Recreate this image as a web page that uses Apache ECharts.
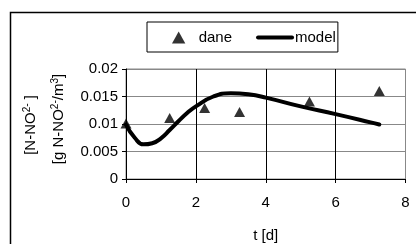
<!DOCTYPE html>
<html>
<head>
<meta charset="utf-8">
<script src="https://cdn.jsdelivr.net/npm/echarts@6/dist/echarts.min.js"></script>
<style>
  html, body { margin: 0; padding: 0; background: #fff; }
  #chart { width: 416px; height: 244px; }
</style>
</head>
<body>
<div id="chart"></div>
<script>
// pomiary (dane)
const daneT = [0, 1.25, 2.25, 3.25, 5.25, 7.25];
const daneC = [0.0101, 0.0111, 0.0129, 0.0122, 0.0141, 0.016];
// krzywa modelu
const modelT = [0, 0.25, 0.5, 0.75, 1, 1.25, 1.5, 1.75, 2, 2.5, 3, 3.5, 4, 5, 6, 7, 7.25];
const modelC = [0.0099, 0.0075, 0.0063, 0.0065, 0.0074, 0.0089, 0.0105, 0.012, 0.0132, 0.015, 0.0156, 0.0154, 0.0148, 0.0132, 0.0118, 0.0103, 0.0099];
const xTicks = [0, 2, 4, 6, 8];
const yTicks = [0, 0.005, 0.01, 0.015, 0.02];

const font = 'Liberation Sans, Arial, sans-serif';
const chart = echarts.init(document.getElementById('chart'));

const supStyle = { fontSize: 10, fontFamily: font, color: '#000', verticalAlign: 'top', lineHeight: 17, padding: [0, 0, 7, 0] };
const txtStyle = { fontSize: 15, fontFamily: font, color: '#000', lineHeight: 17 };

chart.setOption({
  animation: false,
  grid: { left: 126, right: 10.5, top: 69, bottom: 64, show: true, borderColor: '#888', borderWidth: 1 },
  legend: {
    left: 147, top: 22,
    padding: [8, 2, 7, 25],
    itemGap: 24,
    itemWidth: 38, itemHeight: 12,
    symbolKeepAspect: true,
    borderColor: '#000', borderWidth: 1,
    textStyle: { fontSize: 15, fontFamily: font, color: '#000', padding: [0, 0, 0, -4] },
    data: [
      { name: 'dane', icon: 'path://M5,0L10,9L0,9Z', itemStyle: { color: '#000' } },
      { name: 'model', icon: 'path://M2,0H36A2,2,0,0,1,36,4H2A2,2,0,0,1,2,0Z', itemStyle: { color: '#000' } }
    ]
  },
  graphic: [
    { type: 'rect', silent: true, shape: { x: 10.5, y: 12.5, width: 420, height: 250 }, style: { fill: null, stroke: '#000', lineWidth: 1.5 } },
    {
      type: 'text', x: 31, y: 125, rotation: Math.PI / 2,
      style: {
        text: '{t|[N-NO}{s|2-}{t| ]}',
        rich: { t: txtStyle, s: supStyle },
        align: 'center', verticalAlign: 'middle'
      }
    },
    {
      type: 'text', x: 59, y: 119, rotation: Math.PI / 2,
      style: {
        text: '{t|[g N-NO}{s|2-}{t|/m}{s|3}{t|]}',
        rich: { t: txtStyle, s: supStyle },
        align: 'center', verticalAlign: 'middle'
      }
    }
  ],
  xAxis: {
    type: 'value', min: xTicks[0], max: xTicks[xTicks.length - 1], interval: 2,
    name: 't [d]', nameLocation: 'middle', nameGap: 49,
    nameTextStyle: { fontSize: 15, fontFamily: font, color: '#000' },
    axisLine: { lineStyle: { color: '#000', width: 1 } },
    axisTick: { show: true, length: 4, lineStyle: { color: '#000' } },
    axisLabel: { fontSize: 15, fontFamily: font, color: '#000', margin: 16 },
    splitLine: { show: true, lineStyle: { color: ['#000', '#000', '#000', '#000', '#888'], width: 1 } }
  },
  yAxis: {
    type: 'value', min: yTicks[0], max: yTicks[yTicks.length - 1], interval: 0.005,
    axisLine: { show: true, lineStyle: { color: '#000', width: 1 } },
    axisTick: { show: true, length: 4, lineStyle: { color: '#000' } },
    axisLabel: { fontSize: 15, fontFamily: font, color: '#000', margin: 8, formatter: v => String(v) },
    splitLine: { show: true, lineStyle: { color: '#888', width: 1 } }
  },
  series: [
    {
      name: 'dane', type: 'scatter', symbol: 'triangle', symbolSize: [11, 10],
      itemStyle: { color: '#000' }, z: 3,
      data: daneT.map((t, i) => [t, daneC[i]])
    },
    {
      name: 'model', type: 'line', smooth: 0.5, showSymbol: false, symbol: 'none',
      lineStyle: { color: '#000', width: 4, cap: 'round' }, itemStyle: { color: '#000' },
      data: modelT.map((t, i) => [t, modelC[i]])
    }
  ]
});
</script>
</body>
</html>
